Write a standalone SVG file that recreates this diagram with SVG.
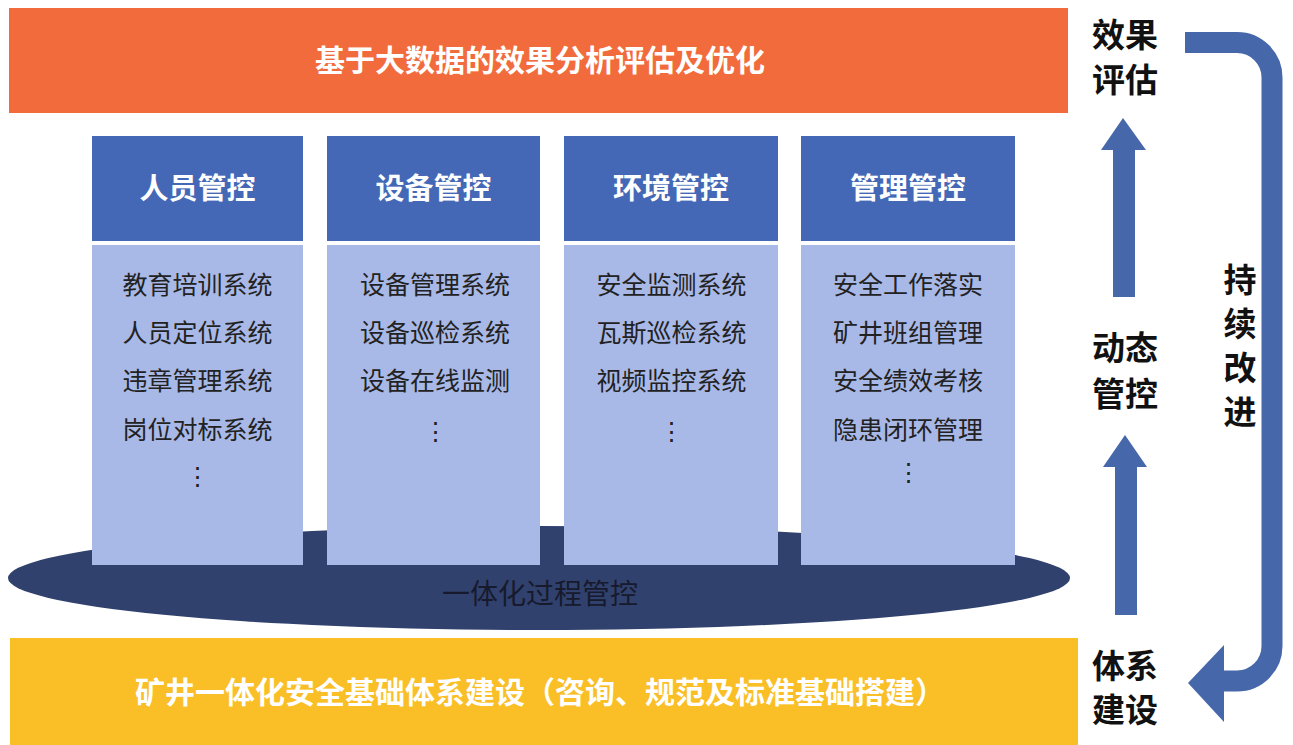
<svg xmlns="http://www.w3.org/2000/svg" width="1293" height="745" viewBox="0 0 1293 745">
  <defs>
    <style>
      .cjk { font-family: "Noto Sans CJK SC", "Noto Sans", sans-serif; }
      .banner { fill: #ffffff; font-weight: bold; font-size: 30px; text-anchor: middle; }
      .head { fill: #4468B6; }
      .body { fill: #A9B9E7; }
      .htxt { fill: #ffffff; font-weight: bold; font-size: 29px; text-anchor: middle; }
      .item { fill: #222222; font-size: 25px; text-anchor: middle; }
      .side { fill: #111111; font-weight: bold; font-size: 33px; text-anchor: middle; }
      .vert { fill: #111111; font-weight: bold; font-size: 33px; writing-mode: vertical-rl; letter-spacing: 11px; }
      .arrow { fill: #4667A9; }
    </style>
  </defs>
  <rect width="1293" height="745" fill="#ffffff"/>

  <g id="top-bar">
    <rect x="9" y="8" width="1059" height="105" fill="#F26B3C"/>
    <text class="cjk banner" x="540" y="71">基于大数据的效果分析评估及优化</text>
  </g>

  <g id="process-ellipse">
    <ellipse cx="539" cy="578" rx="531" ry="52" fill="#31416D"/>
    <text class="cjk" x="540" y="604" font-size="28" fill="#161a2c" text-anchor="middle">一体化过程管控</text>
  </g>

  <g id="col-personnel">
    <rect class="head" x="92" y="136" width="211" height="105"/>
    <rect class="body" x="92" y="245" width="211" height="320"/>
    <text class="cjk htxt" x="197.5" y="199">人员管控</text>
    <text class="cjk item" x="197.5" y="294">教育培训系统</text>
    <text class="cjk item" x="197.5" y="342">人员定位系统</text>
    <text class="cjk item" x="197.5" y="390">违章管理系统</text>
    <text class="cjk item" x="197.5" y="439">岗位对标系统</text>
    <text class="cjk item" x="197.5" y="485">⋮</text>
  </g>

  <g id="col-equipment">
    <rect class="head" x="327" y="136" width="213" height="105"/>
    <rect class="body" x="327" y="245" width="213" height="320"/>
    <text class="cjk htxt" x="433.5" y="199">设备管控</text>
    <text class="cjk item" x="435" y="294">设备管理系统</text>
    <text class="cjk item" x="435" y="342">设备巡检系统</text>
    <text class="cjk item" x="435" y="390">设备在线监测</text>
    <text class="cjk item" x="435" y="440">⋮</text>
  </g>

  <g id="col-environment">
    <rect class="head" x="564" y="136" width="214" height="105"/>
    <rect class="body" x="564" y="245" width="214" height="320"/>
    <text class="cjk htxt" x="671" y="199">环境管控</text>
    <text class="cjk item" x="671.5" y="294">安全监测系统</text>
    <text class="cjk item" x="671.5" y="342">瓦斯巡检系统</text>
    <text class="cjk item" x="671.5" y="390">视频监控系统</text>
    <text class="cjk item" x="671.5" y="440">⋮</text>
  </g>

  <g id="col-management">
    <rect class="head" x="801" y="136" width="214" height="105"/>
    <rect class="body" x="801" y="245" width="214" height="320"/>
    <text class="cjk htxt" x="908" y="199">管理管控</text>
    <text class="cjk item" x="908" y="294">安全工作落实</text>
    <text class="cjk item" x="908" y="342">矿井班组管理</text>
    <text class="cjk item" x="908" y="390">安全绩效考核</text>
    <text class="cjk item" x="908" y="439">隐患闭环管理</text>
    <text class="cjk item" x="908" y="481">⋮</text>
  </g>

  <g id="base-bar">
    <rect x="10" y="638" width="1068" height="107" fill="#FABE26"/>
    <text class="cjk banner" x="540" y="703">矿井一体化安全基础体系建设（咨询、规范及标准基础搭建）</text>
  </g>

  <g id="stage-evaluate">
    <text class="cjk side" x="1125" y="47"><tspan x="1125" y="47">效果</tspan><tspan x="1125" y="92">评估</tspan></text>
  </g>
  <g id="stage-dynamic">
    <text class="cjk side" x="1125" y="360"><tspan x="1125" y="360">动态</tspan><tspan x="1125" y="406">管控</tspan></text>
  </g>
  <g id="stage-system">
    <text class="cjk side" x="1125" y="678"><tspan x="1125" y="678">体系</tspan><tspan x="1125" y="722">建设</tspan></text>
  </g>
  <g id="loop-label">
    <text class="cjk vert" x="1240" y="263">持续改进</text>
  </g>

  <g id="connectors">
    <polygon class="arrow" points="1113,297 1113,150 1101,150 1123,118 1146,150 1135,150 1135,297"/>
    <polygon class="arrow" points="1115,615 1115,467 1103,467 1125,435 1147,467 1137,467 1137,615"/>
    <path d="M1185,42.5 H1237 A35,35 0 0 1 1272,77.5 V646 A35,35 0 0 1 1237,681 H1220" fill="none" stroke="#4667A9" stroke-width="21"/>
    <polygon class="arrow" points="1224,645 1188,683 1224,722"/>
  </g>
</svg>
